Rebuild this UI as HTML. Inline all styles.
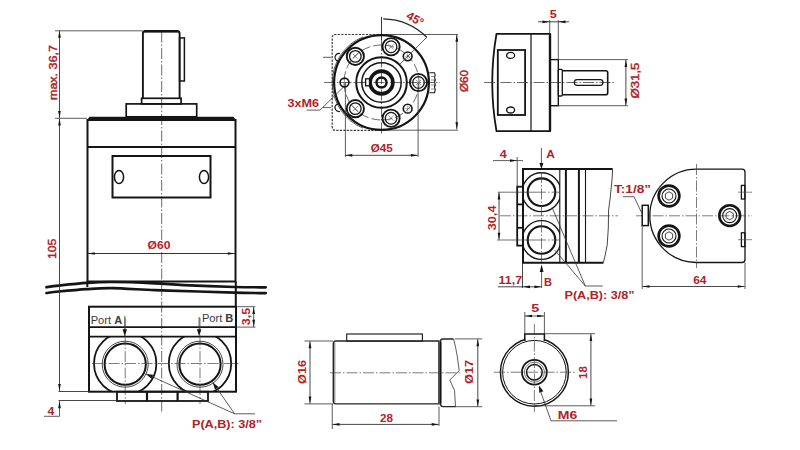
<!DOCTYPE html>
<html><head><meta charset="utf-8"><style>
html,body{margin:0;padding:0;background:#fff;}
body{width:800px;height:450px;overflow:hidden;}
svg{display:block;font-family:"Liberation Sans",sans-serif;}
</style></head><body>
<svg width="800" height="450" viewBox="0 0 800 450" stroke-linecap="butt">
<rect width="800" height="450" fill="#fff"/>
<line x1="161.7" y1="31.5" x2="161.7" y2="240" stroke="#444" stroke-width="0.8" stroke-dasharray="11 2 1.5 2"/>
<line x1="161.7" y1="252" x2="161.7" y2="412" stroke="#444" stroke-width="0.8" stroke-dasharray="11 2 1.5 2"/>
<path d="M142.9,98.3 L142.9,33.5 Q142.9,31.2 145.2,31.2 L177.3,31.2 Q179.6,31.2 179.6,33.5 L179.6,98.3" fill="none" stroke="#151515" stroke-width="1.9" />
<line x1="144" y1="31.2" x2="178.5" y2="31.2" stroke="#151515" stroke-width="2.4" />
<rect x="179.6" y="37.9" width="4.800000000000011" height="43.1" fill="none" stroke="#151515" stroke-width="1.5" />
<rect x="141.6" y="98.3" width="39.5" height="5.6000000000000085" fill="none" stroke="#151515" stroke-width="1.7" />
<rect x="126.2" y="103.9" width="70.49999999999999" height="12.899999999999991" fill="none" stroke="#151515" stroke-width="1.7" />
<path d="M87.5,120 L235.5,120 L235.5,281.5 L87.5,281.5 Z" fill="none" stroke="#151515" stroke-width="2.0" />
<path d="M89.5,116.8 L233.5,116.8 L236.4,120.8 L86.6,120.8 Z" fill="#151515"/>
<line x1="87.5" y1="147" x2="235.5" y2="147" stroke="#151515" stroke-width="2.0" />
<rect x="112.5" y="156" width="98.0" height="41.5" fill="none" stroke="#151515" stroke-width="2.0" />
<ellipse cx="119" cy="177" rx="4.6" ry="6.6" fill="none" stroke="#151515" stroke-width="1.5"/>
<ellipse cx="204" cy="177" rx="4.6" ry="6.6" fill="none" stroke="#151515" stroke-width="1.5"/>
<line x1="87.3" y1="281.5" x2="87.3" y2="287" stroke="#151515" stroke-width="2.0" />
<line x1="235.8" y1="281.5" x2="235.8" y2="306.5" stroke="#151515" stroke-width="2.0" />
<path d="M46.5,287.2 C48.53,286.93 52.00,286.32 58.7,285.6 C65.40,284.88 77.83,283.50 86.7,282.9 C95.57,282.30 100.52,281.93 111.9,282.0 C123.28,282.07 143.03,282.77 155,283.3 C166.97,283.83 170.40,284.58 183.7,285.2 C197.00,285.82 221.13,286.65 234.8,287.0 C248.47,287.35 260.55,287.25 265.7,287.3" fill="none" stroke="#151515" stroke-width="2.7" stroke-linecap="round"/>
<path d="M46.5,293.0 C48.53,292.75 52.00,292.15 58.7,291.5 C65.40,290.85 77.83,289.65 86.7,289.1 C95.57,288.55 100.52,288.02 111.9,288.2 C123.28,288.38 140.65,289.65 155,290.2 C169.35,290.75 184.70,291.08 198,291.5 C211.30,291.92 223.52,292.43 234.8,292.7 C246.08,292.97 260.55,293.03 265.7,293.1" fill="none" stroke="#151515" stroke-width="2.7" stroke-linecap="round"/>
<path d="M89,304 L118,297.7 L136,297 L162,291" fill="none" stroke="<function T at 0x7fd1f62c5f80>" stroke-width="0.8" />
<line x1="196.7" y1="291" x2="212.5" y2="288.4" stroke="<function T at 0x7fd1f62c5f80>" stroke-width="0.8" />
<rect x="89" y="306.7" width="147" height="85.0" fill="none" stroke="#151515" stroke-width="2.0" />
<line x1="89" y1="327.1" x2="236" y2="327.1" stroke="#151515" stroke-width="1.8" />
<line x1="89" y1="336.6" x2="236" y2="336.6" stroke="#151515" stroke-width="1.8" />
<clipPath id="cpL"><rect x="89" y="336.6" width="147" height="55.1"/></clipPath>
<circle cx="125.2" cy="363.5" r="31.2" fill="none" stroke="#151515" stroke-width="1.8" clip-path="url(#cpL)"/>
<circle cx="125.2" cy="364.2" r="20.6" fill="none" stroke="#151515" stroke-width="2.0" />
<circle cx="125.2" cy="364.2" r="23.0" fill="none" stroke="#333" stroke-width="0.9" />
<line x1="125.2" y1="318" x2="125.2" y2="404" stroke="#444" stroke-width="0.7" stroke-dasharray="11 2 1.5 2"/>
<circle cx="200.0" cy="363.5" r="31.2" fill="none" stroke="#151515" stroke-width="1.8" clip-path="url(#cpL)"/>
<circle cx="200.0" cy="364.2" r="20.6" fill="none" stroke="#151515" stroke-width="2.0" />
<circle cx="200.0" cy="364.2" r="23.0" fill="none" stroke="#333" stroke-width="0.9" />
<line x1="200.0" y1="318" x2="200.0" y2="404" stroke="#444" stroke-width="0.7" stroke-dasharray="11 2 1.5 2"/>
<line x1="92" y1="363.5" x2="240" y2="363.5" stroke="#444" stroke-width="0.7" stroke-dasharray="11 2 1.5 2"/>
<rect x="117" y="391.7" width="91" height="9.300000000000011" fill="none" stroke="#151515" stroke-width="1.8" />
<line x1="147" y1="391.7" x2="147" y2="401" stroke="#151515" stroke-width="2.2" />
<line x1="177.6" y1="391.7" x2="177.6" y2="401" stroke="#151515" stroke-width="2.2" />
<text x="90.7" y="323.7" font-size="11.6" fill="#3a3a3a" font-weight="normal" text-anchor="start" textLength="31.5" lengthAdjust="spacingAndGlyphs" >Port <tspan font-weight="bold">A</tspan></text>
<text x="201.9" y="321.7" font-size="11.6" fill="#3a3a3a" font-weight="normal" text-anchor="start" textLength="31.5" lengthAdjust="spacingAndGlyphs" >Port <tspan font-weight="bold">B</tspan></text>
<line x1="124.8" y1="316" x2="124.8" y2="330" stroke="#333" stroke-width="0.8" />
<path d="M124.80,336.30 L122.60,329.30 L127.00,329.30 Z" fill="#151515"/>
<line x1="199.1" y1="317" x2="199.1" y2="330" stroke="#333" stroke-width="0.8" />
<path d="M199.10,336.30 L196.90,329.30 L201.30,329.30 Z" fill="#151515"/>
<line x1="55" y1="30.8" x2="143" y2="30.8" stroke="#333" stroke-width="0.8" />
<line x1="55" y1="118.3" x2="87" y2="118.3" stroke="#333" stroke-width="0.8" />
<line x1="59.5" y1="30.8" x2="59.5" y2="118" stroke="#333" stroke-width="0.9" />
<path d="M59.50,30.80 L60.85,37.80 L58.15,37.80 Z" fill="#151515"/>
<path d="M59.50,118.00 L58.15,111.00 L60.85,111.00 Z" fill="#151515"/>
<line x1="59.5" y1="118.6" x2="59.5" y2="391" stroke="#333" stroke-width="0.9" />
<path d="M59.50,118.60 L60.85,125.60 L58.15,125.60 Z" fill="#151515"/>
<path d="M59.50,391.00 L58.15,384.00 L60.85,384.00 Z" fill="#151515"/>
<text x="57.3" y="100.0" font-size="11.8" fill="#b02228" font-weight="normal" text-anchor="start" transform="rotate(-90 57.3 100.0)" textLength="54.85" lengthAdjust="spacingAndGlyphs" stroke="#b02228" stroke-width="0.45" >max. 36,7</text>
<text x="55.8" y="259.0" font-size="11.8" fill="#b02228" font-weight="normal" text-anchor="start" transform="rotate(-90 55.8 259.0)" textLength="20.29" lengthAdjust="spacingAndGlyphs" stroke="#b02228" stroke-width="0.45" >105</text>
<line x1="58.5" y1="391.5" x2="89" y2="391.5" stroke="#333" stroke-width="0.9" />
<line x1="58.5" y1="400.5" x2="117" y2="400.5" stroke="#333" stroke-width="0.9" />
<line x1="59.5" y1="401" x2="59.5" y2="416.3" stroke="#333" stroke-width="0.8" />
<path d="M59.50,401.30 L60.85,408.30 L58.15,408.30 Z" fill="#151515"/>
<text x="47.4" y="414.5" font-size="10.8" fill="#b02228" font-weight="bold" text-anchor="start" textLength="6.86" lengthAdjust="spacingAndGlyphs" >4</text>
<line x1="44" y1="416.3" x2="59.5" y2="416.3" stroke="#333" stroke-width="0.8" />
<line x1="87.8" y1="253.5" x2="234.8" y2="253.5" stroke="#333" stroke-width="1.0" />
<path d="M87.80,253.50 L94.80,252.15 L94.80,254.85 Z" fill="#151515"/>
<path d="M234.80,253.50 L227.80,254.85 L227.80,252.15 Z" fill="#151515"/>
<text x="147.6" y="249.0" font-size="11.2" fill="#b02228" font-weight="bold" text-anchor="start" textLength="22.87" lengthAdjust="spacingAndGlyphs" >Ø60</text>
<line x1="236" y1="306.7" x2="255.4" y2="306.7" stroke="#333" stroke-width="0.8" />
<line x1="236" y1="327.1" x2="255.4" y2="327.1" stroke="#333" stroke-width="0.8" />
<line x1="253.7" y1="307" x2="253.7" y2="327" stroke="#333" stroke-width="0.8" />
<path d="M253.70,307.00 L255.05,314.00 L252.35,314.00 Z" fill="#151515"/>
<path d="M253.70,326.80 L252.35,319.80 L255.05,319.80 Z" fill="#151515"/>
<text x="250.2" y="325.2" font-size="11.5" fill="#b02228" font-weight="bold" text-anchor="start" transform="rotate(-90 250.2 325.2)" textLength="17.37" lengthAdjust="spacingAndGlyphs" >3,5</text>
<line x1="145.9" y1="373.9" x2="234.6" y2="413.8" stroke="#333" stroke-width="0.8" />
<path d="M145.90,373.90 L153.19,374.77 L151.38,378.78 Z" fill="#151515"/>
<line x1="212.8" y1="382.4" x2="234.6" y2="413.8" stroke="#333" stroke-width="0.8" />
<path d="M212.80,382.40 L218.60,386.90 L214.98,389.40 Z" fill="#151515"/>
<line x1="234.6" y1="413.8" x2="255" y2="413.8" stroke="#333" stroke-width="0.8" />
<text x="192.0" y="428.0" font-size="11.5" fill="#b02228" font-weight="bold" text-anchor="start" textLength="70.06" lengthAdjust="spacingAndGlyphs" >P(A,B): 3/8”</text>
<line x1="381.5" y1="16.8" x2="381.5" y2="40" stroke="#222" stroke-width="0.9" />
<line x1="381.5" y1="40" x2="381.5" y2="134" stroke="#444" stroke-width="0.8" stroke-dasharray="11 2 1.5 2"/>
<line x1="324" y1="82.5" x2="440" y2="82.5" stroke="#444" stroke-width="0.8" stroke-dasharray="11 2 1.5 2"/>
<path d="M382,34.5 L335.5,34.5 Q332.2,34.5 332.2,37.8 L332.2,127.1 Q332.2,130.4 335.5,130.4 L382,130.4" fill="none" stroke="#3a3a3a" stroke-width="1.2" stroke-dasharray="2.2 1.3"/>
<line x1="382" y1="34.5" x2="458" y2="34.5" stroke="#333" stroke-width="0.8" />
<line x1="382" y1="130.2" x2="458" y2="130.2" stroke="#333" stroke-width="0.8" />
<circle cx="381.5" cy="82.5" r="47.4" fill="none" stroke="#151515" stroke-width="2.2" />
<path d="M363.07,36.88 A49.2 49.2 0 0 0 363.07,128.12" fill="none" stroke="#333" stroke-width="0.8"/>
<circle cx="381.5" cy="82.5" r="37.5" fill="none" stroke="#444" stroke-width="0.8" stroke-dasharray="9 3"/>
<circle cx="418.5" cy="82.5" r="8.6" fill="none" stroke="#151515" stroke-width="1.9" />
<circle cx="418.5" cy="82.5" r="5.8" fill="none" stroke="#151515" stroke-width="1.3" />
<line x1="415.95" y1="85.05" x2="421.05" y2="79.95" stroke="#666" stroke-width="0.7" />
<line x1="421.05" y1="85.05" x2="415.95" y2="79.95" stroke="#666" stroke-width="0.7" />
<circle cx="391.08" cy="46.76" r="8.6" fill="none" stroke="#151515" stroke-width="1.9" />
<circle cx="391.08" cy="46.76" r="5.8" fill="none" stroke="#151515" stroke-width="1.3" />
<line x1="388.53" y1="49.31" x2="393.62" y2="44.22" stroke="#666" stroke-width="0.7" />
<line x1="393.62" y1="49.31" x2="388.53" y2="44.22" stroke="#666" stroke-width="0.7" />
<circle cx="355.34" cy="56.34" r="8.6" fill="none" stroke="#151515" stroke-width="1.9" />
<circle cx="355.34" cy="56.34" r="5.8" fill="none" stroke="#151515" stroke-width="1.3" />
<line x1="352.79" y1="58.88" x2="357.88" y2="53.79" stroke="#666" stroke-width="0.7" />
<line x1="357.88" y1="58.88" x2="352.79" y2="53.79" stroke="#666" stroke-width="0.7" />
<circle cx="355.34" cy="108.66" r="8.6" fill="none" stroke="#151515" stroke-width="1.9" />
<circle cx="355.34" cy="108.66" r="5.8" fill="none" stroke="#151515" stroke-width="1.3" />
<line x1="352.79" y1="111.21" x2="357.88" y2="106.12" stroke="#666" stroke-width="0.7" />
<line x1="357.88" y1="111.21" x2="352.79" y2="106.12" stroke="#666" stroke-width="0.7" />
<circle cx="391.08" cy="118.24" r="8.6" fill="none" stroke="#151515" stroke-width="1.9" />
<circle cx="391.08" cy="118.24" r="5.8" fill="none" stroke="#151515" stroke-width="1.3" />
<line x1="388.53" y1="120.78" x2="393.62" y2="115.69" stroke="#666" stroke-width="0.7" />
<line x1="393.62" y1="120.78" x2="388.53" y2="115.69" stroke="#666" stroke-width="0.7" />
<circle cx="407.66" cy="56.34" r="4.4" fill="none" stroke="#151515" stroke-width="1.6" />
<line x1="404.66" y1="56.34" x2="410.66" y2="56.34" stroke="#666" stroke-width="0.5" />
<line x1="407.66" y1="53.34" x2="407.66" y2="59.34" stroke="#666" stroke-width="0.5" />
<circle cx="344.5" cy="82.5" r="4.4" fill="none" stroke="#151515" stroke-width="1.6" />
<line x1="341.5" y1="82.5" x2="347.5" y2="82.5" stroke="#666" stroke-width="0.5" />
<line x1="344.5" y1="79.5" x2="344.5" y2="85.5" stroke="#666" stroke-width="0.5" />
<circle cx="407.66" cy="108.66" r="4.4" fill="none" stroke="#151515" stroke-width="1.6" />
<line x1="404.66" y1="108.66" x2="410.66" y2="108.66" stroke="#666" stroke-width="0.5" />
<line x1="407.66" y1="105.66" x2="407.66" y2="111.66" stroke="#666" stroke-width="0.5" />
<circle cx="381.5" cy="82.5" r="25.3" fill="none" stroke="#151515" stroke-width="2.0" />
<circle cx="381.5" cy="82.5" r="19.7" fill="none" stroke="#151515" stroke-width="1.5" />
<circle cx="381.5" cy="82.5" r="11.4" fill="none" stroke="#151515" stroke-width="3.6" />
<circle cx="381.5" cy="82.5" r="5.0" fill="none" stroke="#151515" stroke-width="2.4" />
<rect x="365.6" y="78.8" width="3.8999999999999773" height="7.0" fill="#fff" stroke="#151515" stroke-width="1.3" />
<path d="M429.4,72.8 L434.5,72.8 Q436,75 434.5,77 Q436,79.5 434.5,82 Q436,84.5 434.5,87 Q436,90 434.5,92.8 L429.4,92.8" fill="none" stroke="#151515" stroke-width="1.1" />
<line x1="431" y1="76.5" x2="435" y2="76.5" stroke="#444" stroke-width="0.6" />
<line x1="431" y1="80" x2="435" y2="80" stroke="#444" stroke-width="0.6" />
<line x1="431" y1="85" x2="435" y2="85" stroke="#444" stroke-width="0.6" />
<line x1="431" y1="89" x2="435" y2="89" stroke="#444" stroke-width="0.6" />
<path d="M338.5,61.5 Q333.5,59.5 335.5,55.5 Q337,53 340,53.5" fill="none" stroke="#151515" stroke-width="1.2" />
<path d="M338.5,103.5 Q333.5,105.5 335.5,109.5 Q337,112 340,111.5" fill="none" stroke="#151515" stroke-width="1.2" />
<line x1="323" y1="57.3" x2="331" y2="57.3" stroke="#333" stroke-width="0.8" />
<line x1="323" y1="107.6" x2="331" y2="107.6" stroke="#333" stroke-width="0.8" />
<line x1="399.8846" y1="64.1154" x2="427" y2="37" stroke="#333" stroke-width="0.8" />
<path d="M383.3,18.9 A64 64 0 0 1 426.75,37.25" fill="none" stroke="#222" stroke-width="1.2"/>
<text x="413.2" y="22.4" font-size="11.8" fill="#b02228" font-weight="bold" text-anchor="middle" transform="rotate(30 413.2 22.4)" >45°</text>
<line x1="456.8" y1="34.8" x2="456.8" y2="129.3" stroke="#333" stroke-width="0.9" />
<path d="M456.80,34.80 L458.15,41.80 L455.45,41.80 Z" fill="#151515"/>
<path d="M456.80,129.30 L455.45,122.30 L458.15,122.30 Z" fill="#151515"/>
<text x="467.6" y="92.0" font-size="11.8" fill="#b02228" font-weight="normal" text-anchor="start" transform="rotate(-90 467.6 92.0)" textLength="22.0" lengthAdjust="spacingAndGlyphs" stroke="#b02228" stroke-width="0.45" >Ø60</text>
<line x1="345.4" y1="82.5" x2="345.4" y2="157" stroke="#333" stroke-width="0.8" />
<line x1="418.1" y1="82.5" x2="418.1" y2="157" stroke="#333" stroke-width="0.8" />
<line x1="345.3" y1="155.3" x2="417.8" y2="155.3" stroke="#333" stroke-width="0.9" />
<path d="M345.30,155.30 L352.30,153.95 L352.30,156.65 Z" fill="#151515"/>
<path d="M417.80,155.30 L410.80,156.65 L410.80,153.95 Z" fill="#151515"/>
<text x="370.8" y="151.6" font-size="11.2" fill="#b02228" font-weight="bold" text-anchor="start" textLength="22.05" lengthAdjust="spacingAndGlyphs" >Ø45</text>
<text x="287.5" y="107.0" font-size="11.2" fill="#b02228" font-weight="bold" text-anchor="start" textLength="31.6" lengthAdjust="spacingAndGlyphs" >3xM6</text>
<line x1="306.7" y1="110.1" x2="320" y2="110.1" stroke="#333" stroke-width="0.8" />
<line x1="320" y1="110.1" x2="343" y2="87.5" stroke="#333" stroke-width="0.8" />
<path d="M496.5,33.9 L550,33.9 L550,131.1 L496.5,131.1 Q488,82.5 496.5,33.9 Z" fill="none" stroke="#151515" stroke-width="1.8" />
<line x1="550" y1="33.9" x2="550" y2="131.1" stroke="#151515" stroke-width="2.4" />
<line x1="531" y1="33.9" x2="531" y2="131.1" stroke="#151515" stroke-width="1.2" />
<rect x="497.8" y="50" width="27.30000000000001" height="65" fill="none" stroke="#151515" stroke-width="1.8" />
<ellipse cx="510.6" cy="55.4" rx="4" ry="3" fill="none" stroke="#151515" stroke-width="1.3"/>
<ellipse cx="510.6" cy="110" rx="4" ry="3" fill="none" stroke="#151515" stroke-width="1.3"/>
<line x1="484" y1="82.5" x2="616" y2="82.5" stroke="#444" stroke-width="0.8" stroke-dasharray="11 2 1.5 2"/>
<rect x="550" y="59.6" width="8.299999999999955" height="46.1" fill="none" stroke="#151515" stroke-width="1.4" />
<rect x="558.3" y="69.3" width="4.0" height="26.700000000000003" fill="none" stroke="#151515" stroke-width="1.3" rx="1"/>
<path d="M562.3,70.7 L605.7,70.7 Q607.7,70.7 607.7,72.7 L607.7,92.7 Q607.7,94.7 605.7,94.7 L562.3,94.7" fill="none" stroke="#151515" stroke-width="1.6" />
<rect x="574.3" y="79.6" width="28.700000000000045" height="5.700000000000003" fill="none" stroke="#151515" stroke-width="1.2" rx="2.8"/>
<line x1="549.7" y1="20" x2="549.7" y2="33.9" stroke="#333" stroke-width="0.8" />
<line x1="558.3" y1="20" x2="558.3" y2="59.6" stroke="#333" stroke-width="0.8" />
<line x1="538" y1="21.8" x2="569" y2="21.8" stroke="#333" stroke-width="0.9" />
<path d="M549.50,21.80 L542.50,23.15 L542.50,20.45 Z" fill="#151515"/>
<path d="M558.50,21.80 L565.50,20.45 L565.50,23.15 Z" fill="#151515"/>
<text x="549.8" y="18.4" font-size="11.4" fill="#b02228" font-weight="bold" text-anchor="start" textLength="7.05" lengthAdjust="spacingAndGlyphs" >5</text>
<line x1="558.3" y1="59.6" x2="628" y2="59.6" stroke="#333" stroke-width="0.8" />
<line x1="558.3" y1="105.7" x2="628" y2="105.7" stroke="#333" stroke-width="0.8" />
<line x1="625.9" y1="59.9" x2="625.9" y2="105.4" stroke="#333" stroke-width="0.9" />
<path d="M625.90,59.90 L627.25,66.90 L624.55,66.90 Z" fill="#151515"/>
<path d="M625.90,105.40 L624.55,98.40 L627.25,98.40 Z" fill="#151515"/>
<text x="639.0" y="98.6" font-size="11.8" fill="#b02228" font-weight="normal" text-anchor="start" transform="rotate(-90 639.0 98.6)" textLength="36.02" lengthAdjust="spacingAndGlyphs" stroke="#b02228" stroke-width="0.45" >Ø31,5</text>
<path d="M612.6,169.1 L523,169.1 L523,262.7 L603.4,262.7" fill="none" stroke="#151515" stroke-width="2.0" />
<path d="M612.6,169.1 L612.2,178 L611.4,186 L610.3,197 L608.6,210 L608.3,228 L607.2,245 L605.2,255 L603.4,262.7" fill="none" stroke="#333" stroke-width="0.9" />
<line x1="559.8" y1="169.1" x2="559.8" y2="262.7" stroke="#151515" stroke-width="1.1" />
<line x1="565.9" y1="169.1" x2="565.9" y2="262.7" stroke="#151515" stroke-width="2.0" />
<line x1="578.9" y1="169.1" x2="578.9" y2="262.7" stroke="#151515" stroke-width="2.0" />
<line x1="585.5" y1="169.1" x2="585.5" y2="262.7" stroke="#151515" stroke-width="1.1" />
<clipPath id="cpP"><rect x="523" y="169.1" width="37" height="93.6"/></clipPath>
<circle cx="541.5" cy="192.2" r="19.4" fill="none" stroke="#151515" stroke-width="1.4" clip-path="url(#cpP)"/>
<circle cx="541.5" cy="192.2" r="13.8" fill="none" stroke="#151515" stroke-width="2.1" />
<line x1="535" y1="192.2" x2="560" y2="192.2" stroke="#444" stroke-width="0.7" stroke-dasharray="11 2 1.5 2"/>
<circle cx="541.5" cy="240.0" r="19.4" fill="none" stroke="#151515" stroke-width="1.4" clip-path="url(#cpP)"/>
<circle cx="541.5" cy="240.0" r="13.8" fill="none" stroke="#151515" stroke-width="2.1" />
<line x1="535" y1="240.0" x2="560" y2="240.0" stroke="#444" stroke-width="0.7" stroke-dasharray="11 2 1.5 2"/>
<line x1="541.5" y1="172" x2="541.5" y2="262" stroke="#444" stroke-width="0.7" stroke-dasharray="11 2 1.5 2"/>
<line x1="500" y1="215.8" x2="618" y2="215.8" stroke="#444" stroke-width="0.7" stroke-dasharray="11 2 1.5 2"/>
<rect x="517.2" y="186.7" width="5.7999999999999545" height="58.900000000000006" fill="none" stroke="#151515" stroke-width="1.8" />
<line x1="517.2" y1="204.4" x2="523" y2="204.4" stroke="#151515" stroke-width="1.8" />
<line x1="517.2" y1="227.8" x2="523" y2="227.8" stroke="#151515" stroke-width="1.8" />
<line x1="517.2" y1="157" x2="517.2" y2="186.7" stroke="#333" stroke-width="0.8" />
<line x1="493" y1="160.6" x2="523" y2="160.6" stroke="#333" stroke-width="0.8" />
<path d="M517.00,160.60 L510.00,161.95 L510.00,159.25 Z" fill="#151515"/>
<text x="499.8" y="158.0" font-size="10.8" fill="#b02228" font-weight="bold" text-anchor="start" textLength="7.01" lengthAdjust="spacingAndGlyphs" >4</text>
<line x1="541.4" y1="148" x2="541.4" y2="165" stroke="#333" stroke-width="0.8" />
<path d="M541.40,169.00 L539.40,163.00 L543.40,163.00 Z" fill="#151515"/>
<text x="546.2" y="158.0" font-size="10.8" fill="#b02228" font-weight="bold" text-anchor="start" textLength="8.62" lengthAdjust="spacingAndGlyphs" >A</text>
<line x1="497.8" y1="192.2" x2="535" y2="192.2" stroke="#333" stroke-width="0.7" />
<line x1="497" y1="240" x2="535" y2="240" stroke="#333" stroke-width="0.7" />
<line x1="499" y1="192.5" x2="499" y2="239.7" stroke="#333" stroke-width="0.9" />
<path d="M499.00,192.50 L500.35,199.50 L497.65,199.50 Z" fill="#151515"/>
<path d="M499.00,239.70 L497.65,232.70 L500.35,232.70 Z" fill="#151515"/>
<text x="496.4" y="230.2" font-size="11.2" fill="#b02228" font-weight="bold" text-anchor="start" transform="rotate(-90 496.4 230.2)" textLength="24.65" lengthAdjust="spacingAndGlyphs" >30,4</text>
<line x1="522.5" y1="263" x2="522.5" y2="288" stroke="#333" stroke-width="0.9" />
<line x1="498" y1="286.8" x2="541.6" y2="286.8" stroke="#333" stroke-width="0.9" />
<path d="M523.00,286.80 L530.00,285.45 L530.00,288.15 Z" fill="#151515"/>
<text x="498.5" y="284.4" font-size="10.8" fill="#b02228" font-weight="bold" text-anchor="start" textLength="23.65" lengthAdjust="spacingAndGlyphs" >11,7</text>
<path d="M541.40,286.80 L534.40,288.15 L534.40,285.45 Z" fill="#151515"/>
<line x1="541.6" y1="268" x2="541.6" y2="288" stroke="#333" stroke-width="0.8" />
<path d="M541.60,264.50 L543.50,272.00 L539.70,272.00 Z" fill="#151515"/>
<text x="544.0" y="286.4" font-size="10.8" fill="#b02228" font-weight="bold" text-anchor="start" textLength="7.99" lengthAdjust="spacingAndGlyphs" >B</text>
<line x1="552" y1="207.3" x2="585.3" y2="286" stroke="#333" stroke-width="0.8" />
<line x1="554.7" y1="250" x2="585.3" y2="286" stroke="#333" stroke-width="0.8" />
<line x1="585.3" y1="286" x2="602.7" y2="286" stroke="#333" stroke-width="0.8" />
<text x="564.5" y="299.0" font-size="11.5" fill="#b02228" font-weight="bold" text-anchor="start" textLength="70.08" lengthAdjust="spacingAndGlyphs" >P(A,B): 3/8”</text>
<path d="M696.5,169.2 L742,169.2 Q745,169.2 745,172.2 L745,259.5 Q745,262.5 742,262.5 L696.5,262.5 A46.7 46.65 0 0 1 696.5,169.2 Z" fill="none" stroke="#151515" stroke-width="1.3" />
<line x1="696.5" y1="164" x2="696.5" y2="268" stroke="#444" stroke-width="0.7" stroke-dasharray="11 2 1.5 2"/>
<line x1="636" y1="215.8" x2="752" y2="215.8" stroke="#444" stroke-width="0.7" stroke-dasharray="11 2 1.5 2"/>
<rect x="642.2" y="205.3" width="6.099999999999909" height="20.299999999999983" fill="#fff" stroke="#151515" stroke-width="1.5" />
<circle cx="669" cy="196" r="10.4" fill="none" stroke="#151515" stroke-width="2.6" />
<circle cx="669" cy="196" r="7.0" fill="none" stroke="#151515" stroke-width="1.1" />
<polygon points="672.64,198.10 669.00,200.20 665.36,198.10 665.36,193.90 669.00,191.80 672.64,193.90" fill="none" stroke="#333" stroke-width="0.9"/>
<circle cx="669" cy="236" r="10.4" fill="none" stroke="#151515" stroke-width="2.6" />
<circle cx="669" cy="236" r="7.0" fill="none" stroke="#151515" stroke-width="1.1" />
<polygon points="672.64,238.10 669.00,240.20 665.36,238.10 665.36,233.90 669.00,231.80 672.64,233.90" fill="none" stroke="#333" stroke-width="0.9"/>
<circle cx="729.7" cy="215.6" r="10.4" fill="none" stroke="#151515" stroke-width="2.6" />
<circle cx="729.7" cy="215.6" r="7.0" fill="none" stroke="#151515" stroke-width="1.1" />
<polygon points="733.34,217.70 729.70,219.80 726.06,217.70 726.06,213.50 729.70,211.40 733.34,213.50" fill="none" stroke="#333" stroke-width="0.9"/>
<rect x="741.4" y="185.4" width="3.5" height="13.599999999999994" fill="none" stroke="#151515" stroke-width="1.3" />
<rect x="741.4" y="232.8" width="3.5" height="13.799999999999983" fill="none" stroke="#151515" stroke-width="1.3" />
<line x1="738" y1="192.2" x2="752" y2="192.2" stroke="#555" stroke-width="0.7" />
<line x1="738" y1="239.7" x2="752" y2="239.7" stroke="#555" stroke-width="0.7" />
<line x1="642.2" y1="225.6" x2="642.2" y2="289" stroke="#333" stroke-width="0.8" />
<line x1="745" y1="262.5" x2="745" y2="289" stroke="#333" stroke-width="0.8" />
<line x1="642.5" y1="286.5" x2="744.7" y2="286.5" stroke="#333" stroke-width="0.9" />
<path d="M642.50,286.50 L649.50,285.15 L649.50,287.85 Z" fill="#151515"/>
<path d="M744.70,286.50 L737.70,287.85 L737.70,285.15 Z" fill="#151515"/>
<text x="693.2" y="284.2" font-size="11.5" fill="#b02228" font-weight="bold" text-anchor="start" textLength="13.26" lengthAdjust="spacingAndGlyphs" >64</text>
<text x="614.0" y="193.1" font-size="11.8" fill="#b02228" font-weight="bold" text-anchor="start" textLength="37.08" lengthAdjust="spacingAndGlyphs" >T:1/8”</text>
<line x1="623" y1="196.7" x2="634" y2="196.7" stroke="#333" stroke-width="0.8" />
<line x1="634" y1="196.7" x2="641.5" y2="212.6" stroke="#333" stroke-width="0.8" />
<path d="M336,341 L438.9,341 L438.9,403.9 L336,403.9 Q333.3,403.9 333.3,401 L333.3,344 Q333.3,341 336,341 Z" fill="none" stroke="#262626" stroke-width="1.4" />
<line x1="334.8" y1="343" x2="334.8" y2="402" stroke="#555" stroke-width="0.8" />
<rect x="346.7" y="334" width="75.69999999999999" height="7.199999999999989" fill="none" stroke="#262626" stroke-width="1.2" />
<path d="M453.6,339 L443,339 Q440.4,339 440.4,342 L440.4,403.6 Q440.4,406.6 443,406.6 L455.5,406.6" fill="none" stroke="#262626" stroke-width="1.4" />
<line x1="440.6" y1="342" x2="440.6" y2="403.6" stroke="#151515" stroke-width="1.8" />
<path d="M453.6,339 L455.5,347 Q457.5,356 458.3,364 L459.2,370.6 L449.8,380 L454.5,390.4 L455.5,406.6" fill="none" stroke="#333" stroke-width="0.8" />
<line x1="330" y1="372.8" x2="462" y2="372.8" stroke="#444" stroke-width="0.7" stroke-dasharray="11 2 1.5 2"/>
<line x1="304.4" y1="341" x2="333" y2="341" stroke="#333" stroke-width="0.8" />
<line x1="304.4" y1="403.9" x2="333" y2="403.9" stroke="#333" stroke-width="0.8" />
<line x1="310" y1="341.3" x2="310" y2="403.6" stroke="#333" stroke-width="0.9" />
<path d="M310.00,341.30 L311.35,348.30 L308.65,348.30 Z" fill="#151515"/>
<path d="M310.00,403.60 L308.65,396.60 L311.35,396.60 Z" fill="#151515"/>
<text x="306.0" y="384.0" font-size="11.2" fill="#b02228" font-weight="bold" text-anchor="start" transform="rotate(-90 306.0 384.0)" textLength="24.05" lengthAdjust="spacingAndGlyphs" >Ø16</text>
<line x1="455" y1="338.9" x2="482.2" y2="338.9" stroke="#333" stroke-width="0.8" />
<line x1="455" y1="406.7" x2="482.2" y2="406.7" stroke="#333" stroke-width="0.8" />
<line x1="477.8" y1="339.2" x2="477.8" y2="406.4" stroke="#333" stroke-width="0.9" />
<path d="M477.80,339.20 L479.15,346.20 L476.45,346.20 Z" fill="#151515"/>
<path d="M477.80,406.40 L476.45,399.40 L479.15,399.40 Z" fill="#151515"/>
<text x="473.2" y="384.0" font-size="11.2" fill="#b02228" font-weight="bold" text-anchor="start" transform="rotate(-90 473.2 384.0)" textLength="24.27" lengthAdjust="spacingAndGlyphs" >Ø17</text>
<line x1="332.25" y1="404" x2="332.25" y2="429" stroke="#333" stroke-width="0.8" />
<line x1="439" y1="406.7" x2="439" y2="426" stroke="#333" stroke-width="0.8" />
<line x1="332.5" y1="424.4" x2="438.7" y2="424.4" stroke="#333" stroke-width="0.9" />
<path d="M332.50,424.40 L339.50,423.05 L339.50,425.75 Z" fill="#151515"/>
<path d="M438.70,424.40 L431.70,425.75 L431.70,423.05 Z" fill="#151515"/>
<text x="380.0" y="421.6" font-size="11.5" fill="#b02228" font-weight="bold" text-anchor="start" textLength="13.0" lengthAdjust="spacingAndGlyphs" >28</text>
<clipPath id="cpE"><path d="M400,300 L800,300 L800,450 L400,450 Z M525.3,330 L543.9,330 L543.9,342 L525.3,342 Z" clip-rule="evenodd"/></clipPath>
<g clip-path="url(#cpE)">
<circle cx="534.4" cy="372.2" r="34" fill="none" stroke="#151515" stroke-width="1.5" />
</g>
<circle cx="534.4" cy="372.2" r="31.8" fill="none" stroke="#151515" stroke-width="1.0" />
<path d="M524.8,341 L524.8,334.1 L544.4,334.1 L544.4,341" fill="none" stroke="#151515" stroke-width="1.5" />
<circle cx="534.4" cy="372.2" r="12.4" fill="none" stroke="#151515" stroke-width="1.8" />
<circle cx="534.4" cy="372.2" r="10.0" fill="none" stroke="#555" stroke-width="0.8" />
<circle cx="534.4" cy="372.2" r="7.8" fill="none" stroke="#151515" stroke-width="1.5" />
<line x1="494" y1="372.2" x2="576" y2="372.2" stroke="#444" stroke-width="0.7" stroke-dasharray="11 2 1.5 2"/>
<line x1="534.4" y1="324" x2="534.4" y2="412" stroke="#444" stroke-width="0.7" stroke-dasharray="11 2 1.5 2"/>
<line x1="524.8" y1="312" x2="524.8" y2="333.9" stroke="#333" stroke-width="0.8" />
<line x1="544.4" y1="312" x2="544.4" y2="333.9" stroke="#333" stroke-width="0.8" />
<line x1="524.8" y1="316" x2="544.4" y2="316" stroke="#333" stroke-width="0.8" />
<path d="M525.00,316.00 L532.00,314.65 L532.00,317.35 Z" fill="#151515"/>
<path d="M544.20,316.00 L537.20,317.35 L537.20,314.65 Z" fill="#151515"/>
<text x="531.2" y="312.2" font-size="10.8" fill="#b02228" font-weight="bold" text-anchor="start" textLength="7.97" lengthAdjust="spacingAndGlyphs" >5</text>
<line x1="544.4" y1="333.7" x2="595" y2="333.7" stroke="#333" stroke-width="0.8" />
<line x1="534" y1="405.8" x2="595" y2="405.8" stroke="#333" stroke-width="0.8" />
<line x1="590.9" y1="334" x2="590.9" y2="405.5" stroke="#333" stroke-width="0.9" />
<path d="M590.90,334.00 L592.25,341.00 L589.55,341.00 Z" fill="#151515"/>
<path d="M590.90,405.50 L589.55,398.50 L592.25,398.50 Z" fill="#151515"/>
<text x="587.4" y="379.0" font-size="11.5" fill="#b02228" font-weight="bold" text-anchor="start" transform="rotate(-90 587.4 379.0)" textLength="12.82" lengthAdjust="spacingAndGlyphs" >18</text>
<line x1="539" y1="387" x2="551" y2="420.8" stroke="#333" stroke-width="0.8" />
<path d="M539.00,385.50 L543.42,391.36 L539.27,392.83 Z" fill="#151515"/>
<line x1="551" y1="420.8" x2="617" y2="420.8" stroke="#333" stroke-width="0.8" />
<text x="557.8" y="418.6" font-size="11.2" fill="#b02228" font-weight="bold" text-anchor="start" textLength="19.52" lengthAdjust="spacingAndGlyphs" >M6</text>
</svg>
</body></html>
